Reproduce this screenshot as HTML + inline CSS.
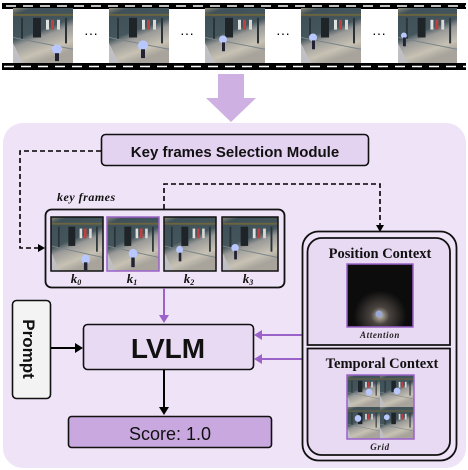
<!DOCTYPE html>
<html><head><meta charset="utf-8">
<style>
html,body{margin:0;padding:0;background:#fff;width:468px;height:470px;overflow:hidden}
svg{display:block}
.sans{font-family:"Liberation Sans","DejaVu Sans",sans-serif}
.serif{font-family:"Liberation Serif","DejaVu Serif",serif}
</style></head><body>
<svg width="468" height="470" viewBox="0 0 468 470" xmlns="http://www.w3.org/2000/svg">
<defs>
<linearGradient id="fr" x1="0" y1="0" x2="0.4" y2="1">
<stop offset="0" stop-color="#8a8c78"/>
<stop offset="0.12" stop-color="#3f5058"/>
<stop offset="0.5" stop-color="#44565c"/>
<stop offset="0.62" stop-color="#9a9a98"/>
<stop offset="0.85" stop-color="#c8c2b4"/>
<stop offset="1" stop-color="#a8a49c"/>
</linearGradient>
<g id="scene">
<rect width="60" height="56" fill="url(#fr)"/>
<rect x="0" y="6" width="60" height="2" fill="#6a6440"/>
<rect x="8" y="10" width="2" height="22" fill="#2a3438"/>
<rect x="20" y="10" width="8" height="20" fill="#1e2428"/>
<rect x="33" y="12" width="3" height="10" fill="#e0e0e0"/>
<rect x="38" y="12" width="3" height="10" fill="#c04040"/>
<rect x="44" y="12" width="3" height="10" fill="#d8d8d8"/>
<rect x="52" y="10" width="2" height="26" fill="#2a3438"/>
<line x1="0" y1="30" x2="60" y2="42" stroke="#7a8488" stroke-width="1"/>
<polygon points="0,36 0,56 10,56" fill="#c0c0c4"/>
</g>
<radialGradient id="att" cx="0.5" cy="0.82" r="0.4">
<stop offset="0" stop-color="#c8c0b0"/>
<stop offset="0.35" stop-color="#4a4440"/>
<stop offset="1" stop-color="#0c0c0c"/>
</radialGradient>
</defs>

<rect x="2" y="3" width="464" height="6" fill="#000"/>
<rect x="2" y="63" width="464" height="7" fill="#000"/>
<line x1="6" y1="6" x2="466" y2="6" stroke="#fff" stroke-width="1.6" stroke-dasharray="10 7"/>
<line x1="4" y1="66.5" x2="466" y2="66.5" stroke="#fff" stroke-width="1.6" stroke-dasharray="10 7"/>
<rect x="2" y="9" width="464" height="54" fill="#fff"/>
<g>
<svg x="13" y="8" width="60" height="55" viewBox="0 0 60 56" preserveAspectRatio="none"><use href="#scene"/><circle cx="44" cy="42" r="5" fill="#b8c8ff"/><rect x="42" y="46" width="4" height="8" fill="#223"/></svg>
<svg x="109" y="8" width="60" height="55" viewBox="0 0 60 56" preserveAspectRatio="none"><use href="#scene"/><circle cx="34" cy="38" r="5" fill="#b8c8ff"/><rect x="32" y="42" width="4" height="9" fill="#223"/></svg>
<svg x="205" y="8" width="60" height="55" viewBox="0 0 60 56" preserveAspectRatio="none"><use href="#scene"/><circle cx="18" cy="32" r="4" fill="#b8c8ff"/><rect x="17" y="35" width="3" height="9" fill="#223"/></svg>
<svg x="301" y="8" width="60" height="55" viewBox="0 0 60 56" preserveAspectRatio="none"><use href="#scene"/><circle cx="12" cy="30" r="4" fill="#b8c8ff"/><rect x="11" y="33" width="3" height="9" fill="#223"/></svg>
<svg x="398" y="8" width="59" height="55" viewBox="0 0 60 56" preserveAspectRatio="none"><use href="#scene"/><circle cx="6" cy="28" r="3" fill="#b8c8ff"/><rect x="5" y="30" width="3" height="9" fill="#223"/></svg>
</g>
<g fill="#000" class="sans" font-size="14" text-anchor="middle">
<text x="91" y="38">···</text><text x="187" y="38">···</text><text x="283" y="38">···</text><text x="379" y="38">···</text>
</g>

<polygon points="218,74 244,74 244,98 256,98 231,122 206,98 218,98" fill="#ceb0e2"/>

<rect x="3" y="123" width="463" height="345" rx="20" fill="#efe3f7"/>

<rect x="101.5" y="134.5" width="267" height="31" rx="4" fill="#e4d2f1" stroke="#111" stroke-width="1.6"/>
<text x="235" y="157" class="sans" font-size="15" font-weight="bold" text-anchor="middle" fill="#111">Key frames Selection Module</text>

<g fill="none" stroke="#000" stroke-width="1.6" stroke-dasharray="5 3">
<polyline points="101,151 20,151 20,248 40,248"/>
<polyline points="164,209 164,184 380,184 380,226"/>
</g>
<polygon points="45,248 38,244 38,252" fill="#000"/>
<polygon points="380,232 376,225 384,225" fill="#000"/>

<text x="57" y="201" class="serif" font-size="12" font-weight="bold" font-style="italic" fill="#111" letter-spacing="0.5">key frames</text>

<rect x="45.5" y="209.5" width="239" height="78" rx="6" fill="#efe3f7" stroke="#111" stroke-width="1.8"/>
<svg x="51" y="217" width="52" height="54" viewBox="0 0 60 56" preserveAspectRatio="none"><use href="#scene"/><circle cx="40" cy="44" r="5" fill="#b8c8ff"/><rect x="38" y="47" width="4" height="8" fill="#223"/></svg>
<rect x="51" y="217" width="52" height="54" fill="none" stroke="#111" stroke-width="1.5"/>
<svg x="107" y="217" width="52" height="54" viewBox="0 0 60 56" preserveAspectRatio="none"><use href="#scene"/><circle cx="30" cy="38" r="5" fill="#b8c8ff"/><rect x="28" y="42" width="4" height="10" fill="#223"/></svg>
<rect x="107" y="217" width="52" height="54" fill="none" stroke="#9b62c8" stroke-width="1.5"/>
<svg x="164" y="217" width="52" height="54" viewBox="0 0 60 56" preserveAspectRatio="none"><use href="#scene"/><circle cx="18" cy="34" r="4" fill="#b8c8ff"/><rect x="17" y="37" width="3" height="9" fill="#223"/></svg>
<rect x="164" y="217" width="52" height="54" fill="none" stroke="#111" stroke-width="1.5"/>
<svg x="222" y="217" width="56" height="54" viewBox="0 0 60 56" preserveAspectRatio="none"><use href="#scene"/><circle cx="14" cy="32" r="4" fill="#b8c8ff"/><rect x="13" y="35" width="3" height="9" fill="#223"/></svg>
<rect x="222" y="217" width="56" height="54" fill="none" stroke="#111" stroke-width="1.5"/>
<g class="serif" font-size="13" font-weight="bold" font-style="italic" fill="#111" text-anchor="middle">
<text x="76" y="283">k<tspan font-size="8" dy="2">0</tspan></text>
<text x="132" y="283">k<tspan font-size="8" dy="2">1</tspan></text>
<text x="189" y="283">k<tspan font-size="8" dy="2">2</tspan></text>
<text x="248" y="283">k<tspan font-size="8" dy="2">3</tspan></text>
</g>

<line x1="164" y1="288" x2="164" y2="316" stroke="#9b62c8" stroke-width="2"/>
<polygon points="164,323 159,315 169,315" fill="#9b62c8"/>

<rect x="12.5" y="300.5" width="38" height="98" rx="4" fill="#f3f3f3" stroke="#111" stroke-width="1.6"/>
<text transform="translate(23,349) rotate(90)" class="sans" font-size="17" font-weight="bold" text-anchor="middle" fill="#111">Prompt</text>
<line x1="51" y1="348" x2="76" y2="348" stroke="#000" stroke-width="2"/>
<polygon points="83,348 75,343 75,353" fill="#000"/>

<rect x="83.5" y="324.5" width="170" height="45" rx="4" fill="#e9daf4" stroke="#111" stroke-width="1.6"/>
<text x="168" y="358" class="sans" font-size="28" font-weight="bold" text-anchor="middle" fill="#111">LVLM</text>

<line x1="164" y1="370" x2="164" y2="408" stroke="#000" stroke-width="2"/>
<polygon points="164,415 159,407 169,407" fill="#000"/>

<rect x="68.5" y="416.5" width="203" height="31" rx="3" fill="#c9a8df" stroke="#111" stroke-width="1.6"/>
<text x="170" y="440" class="sans" font-size="18" text-anchor="middle" fill="#111">Score: 1.0</text>

<line x1="306" y1="335" x2="261" y2="335" stroke="#9b62c8" stroke-width="2"/>
<polygon points="254,335 262,330 262,340" fill="#9b62c8"/>
<line x1="306" y1="359" x2="261" y2="359" stroke="#9b62c8" stroke-width="2"/>
<polygon points="254,359 262,354 262,364" fill="#9b62c8"/>

<rect x="302.5" y="231.5" width="154" height="229" rx="16" fill="#efe3f7" stroke="#111" stroke-width="1.8"/>
<path d="M307.5,345 V252 a14,14 0 0 1 14,-14 H436 a14,14 0 0 1 14,14 V345 Z" fill="#e9daf4" stroke="#111" stroke-width="1.8"/>
<path d="M307.5,348.5 H450 V441 a14,14 0 0 1 -14,14 H321.5 a14,14 0 0 1 -14,-14 Z" fill="#e9daf4" stroke="#111" stroke-width="1.8"/>
<text x="380" y="258" class="serif" font-size="14.5" font-weight="bold" text-anchor="middle" fill="#111">Position Context</text>
<rect x="347" y="264" width="66" height="63" fill="url(#att)" stroke="#9b62c8" stroke-width="1.5"/>
<circle cx="379" cy="314" r="3.5" fill="#9aa8d8"/>
<text x="380" y="338" class="serif" font-size="9" font-weight="bold" font-style="italic" text-anchor="middle" fill="#222" letter-spacing="0.6">Attention</text>
<text x="382" y="368" class="serif" font-size="14.5" font-weight="bold" text-anchor="middle" fill="#111">Temporal Context</text>
<svg x="347" y="375" width="33" height="32" viewBox="0 0 60 56" preserveAspectRatio="none"><use href="#scene"/><circle cx="40" cy="30" r="6" fill="#b8c8ff"/></svg>
<svg x="380" y="375" width="34" height="32" viewBox="0 0 60 56" preserveAspectRatio="none"><use href="#scene"/><circle cx="30" cy="28" r="6" fill="#b8c8ff"/></svg>
<svg x="347" y="407" width="33" height="32" viewBox="0 0 60 56" preserveAspectRatio="none"><use href="#scene"/><circle cx="20" cy="20" r="6" fill="#b8c8ff"/></svg>
<svg x="380" y="407" width="34" height="32" viewBox="0 0 60 56" preserveAspectRatio="none"><use href="#scene"/><circle cx="12" cy="18" r="5" fill="#b8c8ff"/></svg>
<rect x="347" y="375" width="67" height="64" fill="none" stroke="#9b62c8" stroke-width="1.5"/>
<text x="380" y="450" class="serif" font-size="9" font-weight="bold" font-style="italic" text-anchor="middle" fill="#222" letter-spacing="0.6">Grid</text>
</svg>
</body></html>
